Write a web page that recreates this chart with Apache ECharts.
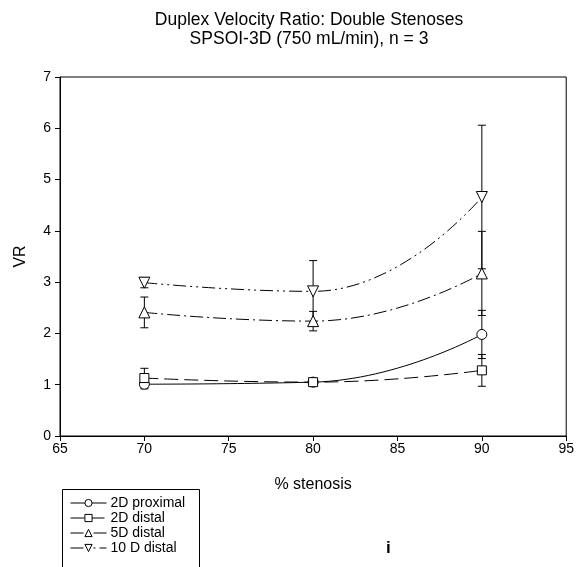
<!DOCTYPE html>
<html>
<head>
    <meta charset="utf-8">
    <title>Duplex Velocity Ratio: Double Stenoses</title>
    <script src="https://cdn.jsdelivr.net/npm/echarts@6.0.0/dist/echarts.min.js"></script>
    <style>
        html, body { margin: 0; padding: 0; background: #fff; }
        #chart { width: 577px; height: 567px; }
    </style>
</head>
<body>
    <div id="chart"></div>
    <script>
        // % stenosis
        const stenosis = [70, 80, 90];

        // mean VR per series
        const prox2D = [1.01, 1.05, 1.98];
        const dist2D = [1.13, 1.05, 1.28];
        const dist5D = [2.41, 2.24, 3.17];
        const dist10D = [2.99, 2.82, 4.66];

        // error (± SD) per series
        const prox2DErr = [0.09, 0.05, 0.47];
        const dist2DErr = [0.19, 0.06, 0.31];
        const dist5DErr = [0.30, 0.19, 0.82];
        const dist10DErr = [0.10, 0.60, 1.40];

        const xTicks = [65, 70, 75, 80, 85, 90, 95];
        const yTicks = [0, 1, 2, 3, 4, 5, 6, 7];

        const chart = echarts.init(document.getElementById('chart'));
        const font = 'Liberation Sans, Arial, sans-serif';

        const defs = [
            { name: '2D proximal', y: prox2D, err: prox2DErr, symbol: 'circle', size: 10, rot: 0, dash: 'solid' },
            { name: '2D distal', y: dist2D, err: dist2DErr, symbol: 'rect', size: 9, rot: 0, dash: [14, 6] },
            { name: '5D distal', y: dist5D, err: dist5DErr, symbol: 'triangle', size: 11, rot: 0, dash: [13, 4, 2, 4] },
            { name: '10 D distal', y: dist10D, err: dist10DErr, symbol: 'triangle', size: 11, rot: 180, dash: [13, 4, 2, 4, 2, 4] }
        ];

        // error bars: vertical line with caps
        function errorBar(params, api) {
            const x = api.value(0);
            const lo = api.coord([x, api.value(1)]);
            const hi = api.coord([x, api.value(2)]);
            const w = 4;
            const style = { stroke: '#000', lineWidth: 1 };
            return {
                type: 'group',
                children: [
                    { type: 'line', shape: { x1: lo[0], y1: lo[1], x2: hi[0], y2: hi[1] }, style: style },
                    { type: 'line', shape: { x1: lo[0] - w, y1: lo[1], x2: lo[0] + w, y2: lo[1] }, style: style },
                    { type: 'line', shape: { x1: hi[0] - w, y1: hi[1], x2: hi[0] + w, y2: hi[1] }, style: style }
                ]
            };
        }

        const series = [];
        defs.forEach(d => {
            series.push({
                type: 'custom',
                name: d.name + ' err',
                renderItem: errorBar,
                data: stenosis.map((x, i) => [x, d.y[i] - d.err[i], d.y[i] + d.err[i]]),
                z: 1,
                silent: true
            });
        });
        defs.forEach(d => {
            series.push({
                type: 'line',
                name: d.name,
                data: stenosis.map((x, i) => [x, d.y[i]]),
                smooth: 0.5,
                symbol: d.symbol,
                symbolSize: d.size,
                symbolRotate: d.rot,
                showAllSymbol: true,
                lineStyle: { color: '#000', width: 1, type: d.dash },
                itemStyle: { color: '#fff', borderColor: '#000', borderWidth: 1 },
                z: 3
            });
        });

        chart.setOption({
            animation: false,
            backgroundColor: '#fff',
            title: [
                {
                    text: 'Duplex Velocity Ratio: Double Stenoses',
                    left: 309, top: 11, padding: 0, textAlign: 'center',
                    textStyle: { fontFamily: font, fontSize: 17.5, fontWeight: 'normal', color: '#000' }
                },
                {
                    text: 'SPSOI-3D (750 mL/min), n = 3',
                    left: 309, top: 30, padding: 0, textAlign: 'center',
                    textStyle: { fontFamily: font, fontSize: 17.5, fontWeight: 'normal', color: '#000' }
                }
            ],
            grid: {
                left: 60, right: 7, top: 77, bottom: 131,
                show: true, borderColor: '#000', borderWidth: 1, backgroundColor: 'transparent'
            },
            legend: {
                data: defs.map(d => d.name),
                orient: 'vertical',
                left: 70, top: 496,
                height: 70,
                padding: 0,
                itemGap: 1,
                itemWidth: 36,
                itemHeight: 9,
                selectedMode: false,
                lineStyle: { width: 1 },
                itemStyle: { borderWidth: 1 },
                textStyle: { fontFamily: font, fontSize: 14, lineHeight: 14, color: '#000', padding: [0, 0, 0, -1] }
            },
            xAxis: {
                type: 'value',
                min: xTicks[0], max: xTicks[xTicks.length - 1], interval: 5,
                name: '% stenosis', nameLocation: 'middle', nameGap: 41,
                nameTextStyle: { fontFamily: font, fontSize: 16, color: '#000' },
                axisLine: { show: true, lineStyle: { color: '#000', width: 1 } },
                axisTick: { show: true, inside: false, length: 5, lineStyle: { color: '#000' } },
                axisLabel: { fontFamily: font, fontSize: 14, color: '#000', margin: 6 },
                splitLine: { show: false }
            },
            yAxis: {
                type: 'value',
                min: yTicks[0], max: yTicks[yTicks.length - 1], interval: 1,
                name: 'VR', nameLocation: 'middle', nameGap: 31, nameRotate: 90,
                nameTextStyle: { fontFamily: font, fontSize: 16, color: '#000' },
                axisLine: { show: true, lineStyle: { color: '#000', width: 1 } },
                axisTick: { show: true, inside: false, length: 5, lineStyle: { color: '#000' } },
                axisLabel: { fontFamily: font, fontSize: 14, color: '#000', margin: 9 },
                splitLine: { show: false }
            },
            graphic: [
                {
                    type: 'rect', left: 60, top: 487,
                    shape: { width: 137, height: 100 },
                    style: { fill: 'none', stroke: '#000', lineWidth: 1 }
                },
                {
                    type: 'text', left: 386, top: 540,
                    style: { text: 'i', fontFamily: font, fontSize: 17, fontWeight: 'bold', fill: '#000' }
                }
            ],
            series: series
        });
    </script>
</body>
</html>
